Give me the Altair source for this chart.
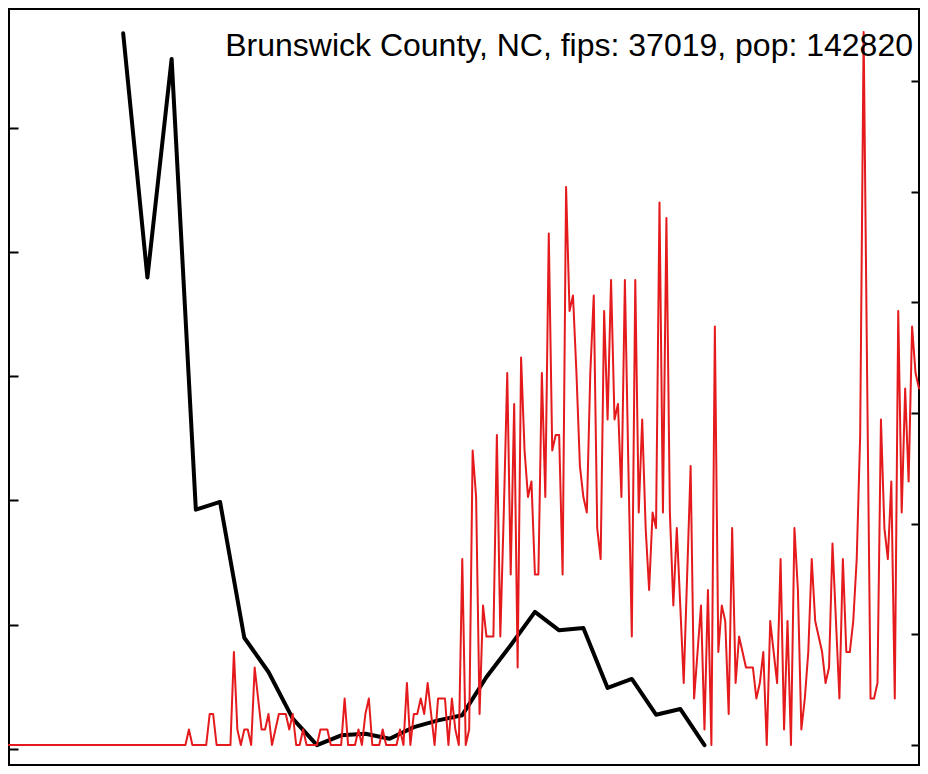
import altair as alt
import pandas as pd

# ---------------- data ----------------
START_DATE = "2020-01-22"
POPULATION = 142820
TITLE_TEXT = "Brunswick County, NC, fips: 37019, pop: 142820"

# daily new cases (red), one value per day starting 2020-01-22
red_cases = [
    0, 0, 0, 0, 0, 0, 0, 0, 0, 0,
    0, 0, 0, 0, 0, 0, 0, 0, 0, 0,
    0, 0, 0, 0, 0, 0, 0, 0, 0, 0,
    0, 0, 0, 0, 0, 0, 0, 0, 0, 0,
    0, 0, 0, 0, 0, 0, 0, 0, 0, 0,
    0, 0, 1, 0, 0, 0, 0, 0, 2, 2,
    0, 0, 0, 0, 0, 6, 1, 0, 1, 1,
    0, 5, 3, 1, 1, 2, 0, 1, 2, 2,
    2, 1, 2, 0, 0, 1, 0, 0, 0, 0,
    1, 1, 1, 0, 0, 0, 0, 3, 0, 0,
    0, 1, 0, 2, 3, 0, 0, 0, 1, 0,
    0, 0, 0, 1, 0, 4, 0, 2, 2, 3,
    2, 4, 2, 0, 3, 3, 3, 0, 3, 1,
    0, 12, 0, 1, 19, 16, 2, 9, 7, 7,
    7, 20, 7, 15, 24, 11, 22, 5, 25, 19,
    16, 17, 11, 11, 24, 16, 33, 19, 20, 20,
    11, 36, 28, 29, 24, 18, 16, 15, 24, 29,
    14, 12, 28, 21, 30, 21, 22, 16, 30, 18,
    7, 30, 15, 21, 14, 10, 15, 14, 35, 15,
    34, 15, 9, 14, 9, 4, 11, 18, 3, 6,
    9, 1, 10, 0, 27, 6, 9, 8, 2, 14,
    4, 7, 6, 5, 5, 5, 3, 4, 6, 0,
    8, 6, 4, 12, 1, 8, 0, 14, 10, 1,
    3, 6, 12, 8, 7, 6, 4, 5, 13, 8,
    3, 12, 6, 6, 8, 12, 20, 46, 24, 3,
    3, 4, 21, 14, 12, 17, 3, 28, 15, 23,
    17, 27, 24, 23,
]

# weekly series (black), left axis units
BLACK_FIRST_OFFSET_DAYS = 33
black_values = [
    288.2, 189.8, 277.9, 96.3, 99.4, 44.7, 30.9, 12.1, 1.4, 5.4,
    6.0, 4.0, 8.7, 11.4, 13.5, 28.9, 41.7, 55.1, 47.7, 48.6,
    24.5, 28.1, 13.7, 16.0, 1.4,
]

left_ticks = [0, 50, 100, 150, 200, 250]
right_ticks = [0, 5, 10, 15, 20, 25, 30]
x_tick_dates = [(2020, 3, 1), (2020, 5, 1), (2020, 7, 1), (2020, 9, 1)]
x_domain_dates = [(2020, 1, 22), (2020, 10, 11)]

# ---------------- tables ----------------
start = pd.Timestamp(START_DATE)
red_df = pd.DataFrame({
    "date": pd.date_range(start, periods=len(red_cases), freq="D").strftime("%Y-%m-%d"),
    "cases": red_cases,
})
black_df = pd.DataFrame({
    "date": pd.date_range(start + pd.Timedelta(days=BLACK_FIRST_OFFSET_DAYS),
                          periods=len(black_values), freq="7D").strftime("%Y-%m-%d"),
    "value": black_values,
})
text_df = pd.DataFrame({"label": [TITLE_TEXT]})

W, H = 910, 756

def dt(t):
    return alt.DateTime(year=t[0], month=t[1], date=t[2], utc=True)

xscale = alt.Scale(type="utc", domain=[dt(d) for d in x_domain_dates])

x_axis = alt.Axis(
    orient="top", offset=-H, values=[dt(d) for d in x_tick_dates],
    labels=False, domain=False, grid=False, title=None,
    tickSize=8, tickWidth=2, tickColor="black",
)
left_axis = alt.Axis(
    orient="right", offset=-W, values=left_ticks,
    labels=False, domain=False, grid=False, title=None,
    tickSize=9, tickWidth=2, tickColor="black",
)
right_axis = alt.Axis(
    orient="left", offset=-W, values=right_ticks,
    labels=False, domain=False, grid=False, title=None,
    tickSize=8, tickWidth=2, tickColor="black",
)

black = alt.Chart(black_df).mark_line(
    color="black", strokeWidth=4, strokeJoin="round", strokeCap="round"
).encode(
    x=alt.X("date:T", scale=xscale, axis=x_axis),
    y=alt.Y("value:Q", scale=alt.Scale(domain=[-6.57, 298.0], nice=False, zero=False),
            axis=left_axis),
)

red = alt.Chart(red_df).transform_calculate(
    per100k=f"datum.cases / {POPULATION} * 100000"
).mark_line(
    color="#e41a1c", strokeWidth=2, strokeJoin="round", strokeCap="round"
).encode(
    x=alt.X("date:T", scale=xscale, axis=None),
    y=alt.Y("per100k:Q", scale=alt.Scale(domain=[-0.903, 33.25], nice=False, zero=False),
            axis=right_axis),
)

title = alt.Chart(text_df).mark_text(
    align="right", baseline="alphabetic", fontSize=32,
    font="Liberation Sans", color="black",
).encode(
    text="label:N",
    x=alt.value(904),
    y=alt.value(47),
)

chart = alt.layer(black, red, title).resolve_scale(
    y="independent"
).properties(
    width=W, height=H,
    padding={"left": 1, "top": 1, "right": 1, "bottom": 1},
    autosize=alt.AutoSizeParams(type="none"),
).configure_view(
    stroke="black", strokeWidth=2
)

chart.save("out.html", embed_options={"renderer": "svg", "actions": False})
